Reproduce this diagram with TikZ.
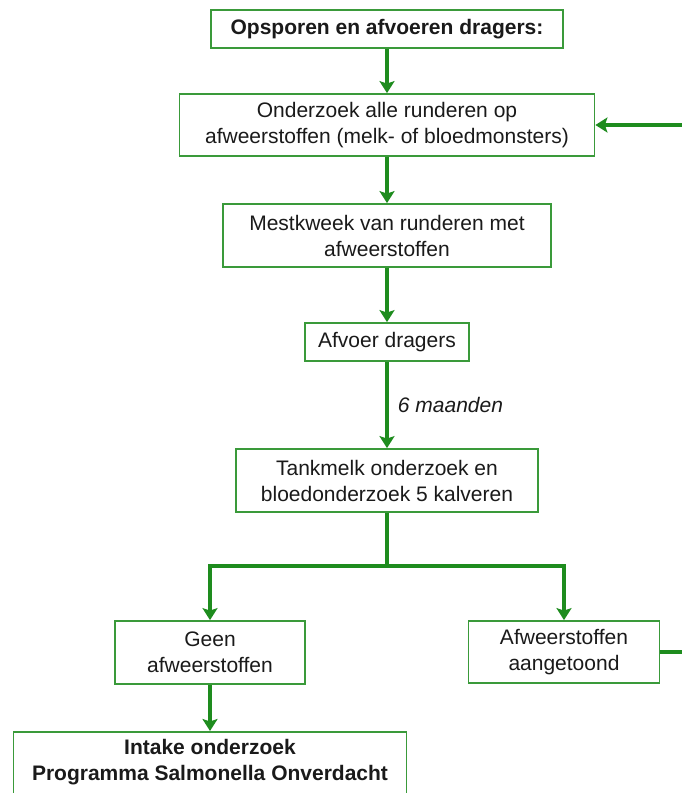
\documentclass[tikz,border=0pt]{standalone}
\usepackage{fontspec}
\setmainfont{Liberation Sans}
\usetikzlibrary{arrows.meta}
\definecolor{arrowgreen}{HTML}{1E8C1E}
\definecolor{boxgreen}{HTML}{3A9A3A}
\definecolor{txtgray}{HTML}{1A1A1A}
\tikzset{
  box/.style={draw=boxgreen, line width=1.8pt, fill=white, align=center, inner sep=0pt,
    text=txtgray, font=\fontsize{21}{26}\selectfont},
  flow/.style={draw=arrowgreen, line width=3.2pt, -{Stealth[length=12pt,width=15pt,inset=2.5pt]}},
  flowline/.style={draw=arrowgreen, line width=3.2pt},
  lbl/.style={text=txtgray, font=\fontsize{21}{26}\selectfont\itshape, anchor=west}
}
\begin{document}
\begin{tikzpicture}[x=1pt,y=-1pt]
\clip (0,0) rectangle (682,793);
\fill[white] (0,0) rectangle (682,793);

\node[box, minimum width=352, minimum height=38, font=\fontsize{21}{26}\selectfont\bfseries] (top) at (387,29) {Opsporen en afvoeren dragers:};
\node[box, minimum width=415, minimum height=62] (onder) at (387,125) {Onderzoek alle runderen op\\afweerstoffen (melk- of bloedmonsters)};
\node[box, minimum width=328, minimum height=63] (mest) at (387,235.5) {Mestkweek van runderen met\\afweerstoffen};
\node[box, minimum width=164, minimum height=38] (afvoer) at (387,342) {Afvoer dragers};
\node[box, minimum width=302, minimum height=63] (tank) at (387,480.5) {Tankmelk onderzoek en\\bloedonderzoek 5 kalveren};
\node[box, minimum width=190, minimum height=63] (geen) at (210,652.5) {Geen\\afweerstoffen};
\node[box, minimum width=191, minimum height=62] (aang) at (564,652) {Afweerstoffen\\aangetoond};
\node[box, minimum width=393, minimum height=100, anchor=north] (intake) at (210,731) {};
\node[text=txtgray, font=\fontsize{21}{26}\selectfont\bfseries, align=center] (intaket) at (210,762) {Intake onderzoek\\Programma Salmonella Onverdacht};

\coordinate (split) at (387,566);
\coordinate (splitL) at (210,566);
\coordinate (splitR) at (564,566);
\coordinate (edgeA) at (690,650);
\coordinate (edgeB) at (690,125);

\draw[flow] (top) -- (onder);
\draw[flow] (onder) -- (mest);
\draw[flow] (mest) -- (afvoer);
\draw[flow] (afvoer) -- node[lbl, xshift=6pt] (maand) {6 maanden} (tank);
\draw[flowline] (tank.south) -- (split);
\draw[flowline, line cap=rect] (splitL) -- (splitR);
\draw[flow] (splitL) -- (geen.north);
\draw[flow] (splitR) -- (aang.north);
\draw[flow] (geen) -- (intake.north);
\draw[flowline] (aang.east) -- (aang.east -| edgeA);
\draw[flow] (edgeB) -- (onder.east);
\end{tikzpicture}
\end{document}
